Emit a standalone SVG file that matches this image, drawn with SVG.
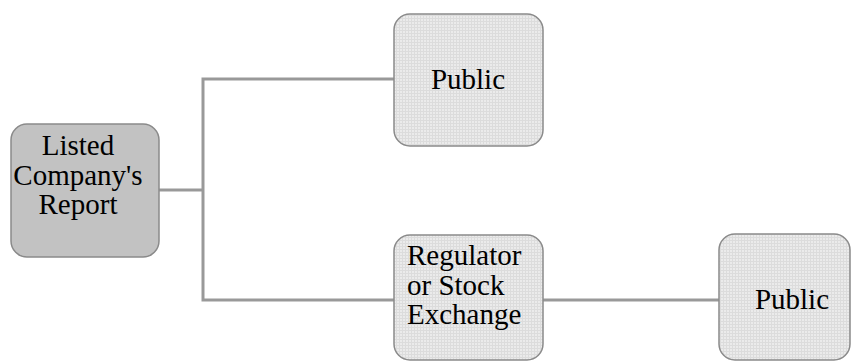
<svg xmlns="http://www.w3.org/2000/svg" width="854" height="362" viewBox="0 0 854 362">
<defs>
<pattern id="grid" width="3" height="3" patternUnits="userSpaceOnUse">
<rect width="3" height="3" fill="#ebebeb"/>
<path d="M0 0.5H3M0.5 0V3" stroke="#dcdcdc" stroke-width="1"/>
</pattern>
</defs>
<style>
.box{stroke:#8a8a8a;stroke-width:1.5}
.light{fill:url(#grid)}
.dark{fill:#c2c2c2}
.t{font-family:"Liberation Serif","Times New Roman",serif;font-size:29px;fill:#000}
.c{text-anchor:middle}
.conn{fill:none;stroke:#999;stroke-width:3}
</style>
<rect width="854" height="362" fill="#fff"/>
<g id="connectors">
<polyline class="conn" points="159,190 203,190"/>
<polyline class="conn" points="394,79 203,79 203,300 394,300"/>
<polyline class="conn" points="543,300 719,300"/>
</g>
<g id="node-listed">
<rect class="box dark" x="11" y="124" width="148" height="133" rx="16"/>
<text class="t c" x="78" y="155">Listed</text>
<text class="t c" x="78" y="185">Company's</text>
<text class="t c" x="78" y="214">Report</text>
</g>
<g id="node-public-top">
<rect class="box light" x="394" y="14" width="149" height="132" rx="16"/>
<text class="t c" x="468" y="89">Public</text>
</g>
<g id="node-regulator">
<rect class="box light" x="394" y="235" width="149" height="125" rx="16"/>
<text class="t" x="407" y="265">Regulator</text>
<text class="t" x="407" y="295">or Stock</text>
<text class="t" x="407" y="324">Exchange</text>
</g>
<g id="node-public-bottom">
<rect class="box light" x="719" y="234" width="131" height="126" rx="16"/>
<text class="t c" x="792" y="309">Public</text>
</g>
</svg>
